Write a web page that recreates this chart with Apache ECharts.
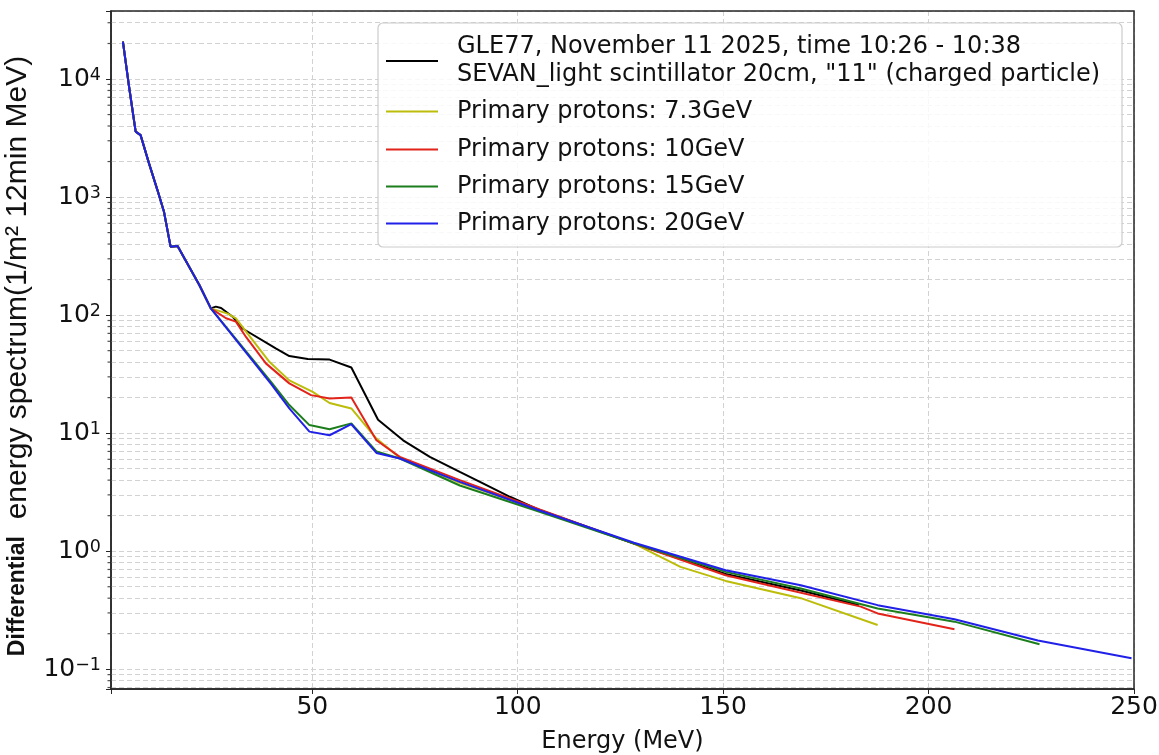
<!DOCTYPE html>
<html><head><meta charset="utf-8">
<script src="https://cdn.jsdelivr.net/npm/echarts@6/dist/echarts.min.js"></script>
<style>html,body{margin:0;padding:0;background:#fff}#c{width:1159px;height:755px}</style>
</head><body><div id="c"></div>
<script>
// ---------- data ----------
const seriesNames = [
  'GLE77, November 11 2025, time 10:26 - 10:38\nSEVAN_light scintillator 20cm, "11" (charged particle)',
  'Primary protons: 7.3GeV',
  'Primary protons: 10GeV',
  'Primary protons: 15GeV',
  'Primary protons: 20GeV'
];
const seriesColors = ['#000000', '#bcbc0a', '#e2231a', '#1c7d1c', '#2020e8'];

const blackE = [3.9,5.4,7.0,8.2,10.25,12.3,13.9,15.5,17.2,22.5,25.3,26.5,27.8,30.6,33,41.2,44.4,48.9,54.2,59.5,66,72.1,78.6,85.9,90.8,98.1,105.5,128.3,150.6,168.9,183];
const blackY = [20700,8600,3580,3350,1930,1146,750,380,385,180,114,118,115,97,77,52,45,42.4,42,36,13,8.7,6.3,4.7,3.87,2.89,2.22,1.16,0.64,0.465,0.35];

const yellowE = [3.9,5.4,7.0,8.2,10.25,12.3,13.9,15.5,17.2,22.5,25.3,29.4,31.4,39.6,44.4,50.1,54.2,59.5,65.6,71.3,85.9,100.6,105.5,128.3,139.6,150.6,168.9,187.6];
const yellowY = [20700,8600,3580,3350,1930,1146,750,380,385,180,114,103,94,40,28,22.4,18,16.2,9.0,6.2,3.8,2.54,2.2,1.16,0.736,0.56,0.40,0.237];

const redE = [3.9,5.4,7.0,8.2,10.25,12.3,13.9,15.5,17.2,22.5,25.3,29,31.4,33.9,38.7,44.4,49.7,54.2,59.5,65.6,71.3,85.9,100.6,105.5,128.3,150.6,159.2,183.5,187.6,206.3];
const redY = [20700,8600,3580,3350,1930,1146,750,380,385,180,114,94,88,65,39,26.4,21,19.7,20,8.7,6.3,4.0,2.6,2.25,1.16,0.626,0.533,0.339,0.297,0.218];

const greenE = [3.9,5.4,7.0,8.2,10.25,12.3,13.9,15.5,17.2,22.5,25.3,40,44.4,49.3,54.2,59.5,65.6,71.3,85.9,105.5,128.3,150.6,168.9,187.6,206.3,227];
const greenY = [20700,8600,3580,3350,1930,1146,750,380,385,180,114,27,17.3,11.7,10.8,12.1,7.0,6.1,3.6,2.15,1.16,0.668,0.483,0.327,0.253,0.163];

const blueE = [3.9,5.4,7.0,8.2,10.25,12.3,13.9,15.5,17.2,22.5,25.3,40,44.4,49.3,54.2,59.5,65.6,71.3,85.9,105.5,128.3,150.6,168.9,187.6,206.3,226.6,249.4];
const blueY = [20700,8600,3580,3350,1930,1146,750,380,385,180,114,26,16.2,10.3,9.6,11.9,6.8,6.1,3.87,2.2,1.18,0.69,0.515,0.349,0.265,0.175,0.124];

const xTickValues = [50, 100, 150, 200, 250];
const yTickExponents = [-1, 0, 1, 2, 3, 4];
const xRange = [1, 250];
const yRange = [0.068, 37700];

// ---------- build ----------
const allE = [blackE, yellowE, redE, greenE, blueE];
const allY = [blackY, yellowY, redY, greenY, blueY];
const pairs = (E, Y) => E.map((e, i) => [e, Y[i]]);

// minor tick / gridline positions (2..9 x 10^k) inside the y range
const minorVals = [];
for (let k = -2; k <= 5; k++) for (let m = 2; m <= 9; m++) {
  const v = m * Math.pow(10, k);
  if (v > yRange[0] && v < yRange[1]) minorVals.push(v);
}

const gridColor = '#d2d2d2';
const axisColor = '#262626';
const series = allE.map((E, i) => ({
  name: seriesNames[i],
  type: 'line',
  data: pairs(E, allY[i]),
  symbol: 'none',
  showSymbol: false,
  z: 2 + i,
  lineStyle: { color: seriesColors[i], width: 2 },
  itemStyle: { color: seriesColors[i] },
  emphasis: { disabled: true }
}));
series[0].markLine = {
  silent: true, symbol: ['none', 'none'], z: 1, animation: false,
  label: { show: false },
  lineStyle: { color: gridColor, type: [5, 3], width: 1 },
  emphasis: { disabled: true },
  data: minorVals.map(v => ({ yAxis: v }))
};
// minor tick marks on the left axis
series.push({
  name: 'minorTicks', type: 'scatter', silent: true, z: 10, clip: false,
  symbol: 'rect', symbolSize: [3.5, 1.2], symbolOffset: [-1.75, 0],
  itemStyle: { color: axisColor },
  emphasis: { disabled: true },
  data: minorVals.map(v => [xRange[0], v])
});

const legendTops = [32.5, 97.5, 135.5, 172.5, 209.5];
const legends = seriesNames.map((n, i) => ({
  data: [n],
  left: 386,
  top: legendTops[i],
  orient: 'vertical',
  padding: 0,
  icon: 'rect',
  itemWidth: 52,
  itemHeight: 2,
  selectedMode: false,
  z: 6,
  textStyle: {
    fontFamily: 'DejaVu Sans', fontSize: 24, color: '#111',
    lineHeight: i === 0 ? 28.5 : 28, padding: [0, 0, 0, 14]
  }
}));

const option = {
  animation: false,
  backgroundColor: '#fff',
  grid: { left: 111, top: 11, width: 1023, height: 678, show: false, containLabel: false, outerBoundsMode: 'none' },
  xAxis: {
    type: 'value', min: xRange[0], max: xRange[1],
    name: 'Energy (MeV)', nameLocation: 'middle', nameGap: 41,
    nameTextStyle: { fontFamily: 'DejaVu Sans', fontSize: 24, color: '#111' },
    axisLine: { lineStyle: { color: axisColor, width: 1.5 } },
    axisTick: { show: true, length: 5, lineStyle: { color: axisColor } },
    axisLabel: { margin: 6, fontFamily: 'DejaVu Sans', fontSize: 25, color: '#111',
      formatter: v => (xTickValues.indexOf(Math.round(v)) >= 0 && Math.abs(v - Math.round(v)) < 1e-6) ? String(Math.round(v)) : '' },
    splitLine: { show: true, lineStyle: { color: gridColor, type: [5, 3], width: 1 } }
  },
  yAxis: {
    type: 'log', logBase: 10, min: yRange[0], max: yRange[1],
    name: '{b|Differential}  energy spectrum(1/m\u00B2 12min MeV)',
    nameLocation: 'middle', nameGap: 68, nameRotate: 90,
    nameTextStyle: { fontFamily: 'Liberation Sans', fontSize: 30, color: '#111', padding: [0, 12, 0, 0],
      rich: { b: { fontFamily: 'Liberation Sans', fontSize: 23, fontWeight: 'bold', color: '#111' } } },
    axisLine: { show: true, lineStyle: { color: axisColor, width: 1.5 } },
    axisTick: { show: true, length: 5, lineStyle: { color: axisColor } },
    axisLabel: { margin: 10, fontFamily: 'DejaVu Sans', fontSize: 25, color: '#111',
      formatter: v => {
        const l = Math.log10(v), e = Math.round(l);
        if (Math.abs(l - e) > 1e-6 || yTickExponents.indexOf(e) < 0) return '';
        return '{b|10}{s|' + (e < 0 ? '\u2212' + (-e) : e) + '}';
      },
      rich: {
        b: { fontFamily: 'DejaVu Sans', fontSize: 25, color: '#111', verticalAlign: 'bottom' },
        s: { fontFamily: 'DejaVu Sans', fontSize: 17.5, color: '#111', verticalAlign: 'top', padding: [0, 0, 8, 0] }
      } },
    splitLine: { show: true, lineStyle: { color: gridColor, type: [5, 3], width: 1 } }
  },
  legend: legends,
  graphic: [{
    type: 'rect', z: 3, silent: true,
    shape: { x: 378, y: 23, width: 744, height: 224, r: 5 },
    style: { fill: 'rgba(255,255,255,0.85)', stroke: '#cccccc', lineWidth: 1.2 }
  }, {
    type: 'rect', z: 20, silent: true,
    shape: { x: 111, y: 11, width: 1023, height: 678 },
    style: { fill: null, stroke: axisColor, lineWidth: 1.5 }
  }],
  series: series
};

const chart = echarts.init(document.getElementById('c'), null, { renderer: 'canvas' });
chart.setOption(option);
</script>
</body></html>
